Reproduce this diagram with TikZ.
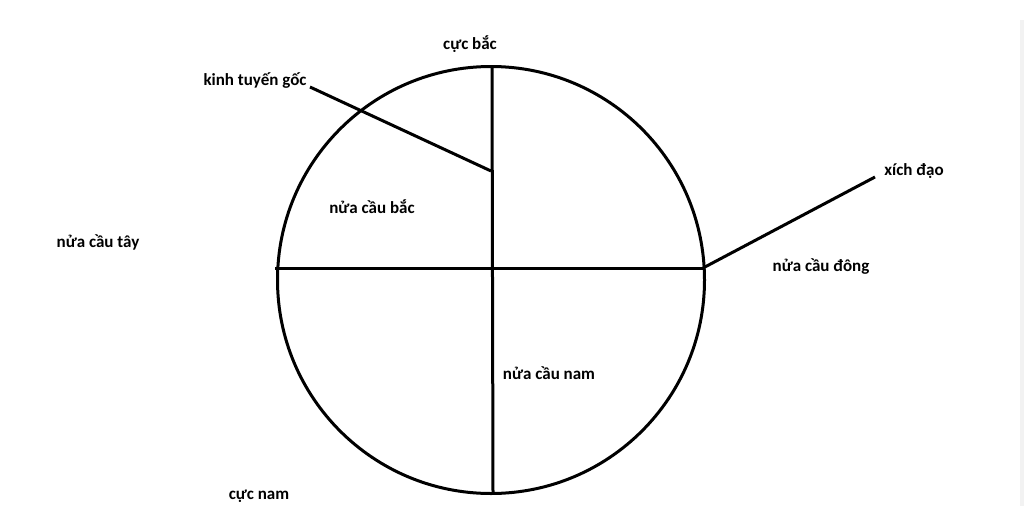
\documentclass[tikz,border=0pt]{standalone}
\usepackage{fontspec}
\setmainfont{Carlito}
\usetikzlibrary{positioning}

\begin{document}
\begin{tikzpicture}[x=1pt,y=-1pt,line width=3pt,
  every node/.style={inner sep=0pt,font=\bfseries\fontsize{17}{20}\selectfont}]
  \useasboundingbox (0,0) rectangle (1024,506);
  \fill[gray!10] (1020,20) rectangle (1024,506);

  \draw (491,280) circle [radius=213.5pt];

  \coordinate (np) at (492,67);
  \coordinate (sp) at (493,494);
  \coordinate (w) at (275,268);
  \coordinate (e) at (703,268);
  \coordinate (meet) at (491,171);
  \coordinate (ktend) at (310,87);
  \coordinate (xdend) at (875,177);

  \node (bac) at (470,44) {cực bắc};
  \node (kt) at (255,81) {kinh tuyến gốc};
  \node (xd) at (914,171) {xích đạo};
  \node (ncbac) at (372,207) {nửa cầu bắc};
  \node (nctay) at (98,242) {nửa cầu tây};
  \node (ncdong) at (821,267) {nửa cầu đông};
  \node (ncnam) at (549,373) {nửa cầu nam};
  \node (nam) at (259,496) {cực nam};

  \path[-] (np) edge (sp);
  \path[-] (w) edge (e);
  \path[-] (ktend) edge (meet);
  \path[-] (e) edge (xdend);

\end{tikzpicture}
\end{document}
